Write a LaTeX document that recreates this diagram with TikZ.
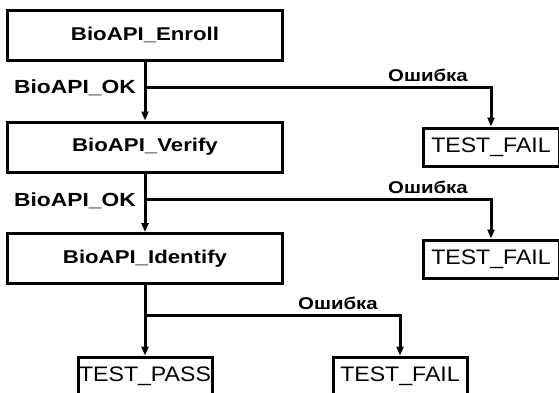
\documentclass[tikz,border=0pt]{standalone}
\usepackage{fontspec}
\setmainfont{Liberation Sans}
\newfontfamily\boldwide[FakeStretch=1.2]{Liberation Sans Bold}
\newfontfamily\regwide[FakeStretch=1.1]{Liberation Sans}
\usetikzlibrary{arrows.meta}
\begin{document}
\begin{tikzpicture}[x=1pt,y=-1pt, line width=3pt,
  bigbox/.style={draw, line width=3pt, minimum width=275pt, minimum height=50pt, inner sep=0pt,
    font=\boldwide\fontsize{18.5}{20}\selectfont},
  endbox/.style={draw, line width=3pt, minimum width=136pt, minimum height=38pt, inner sep=0pt,
    font=\regwide\fontsize{21}{23}\selectfont},
  lbl/.style={inner sep=0pt, font=\boldwide\fontsize{19}{21}\selectfont},
  elbl/.style={inner sep=0pt, font=\boldwide\fontsize{17}{19}\selectfont},
  arr/.style={-{Triangle[width=7pt,length=9pt]}}]
\useasboundingbox (0,0) rectangle (559,392);
\fill[white] (0,0) rectangle (559,392);

\node[bigbox] (enroll) at (145,35) {BioAPI\_Enroll};
\node[bigbox] (verify) at (145,147) {BioAPI\_Verify};
\node[bigbox] (identify) at (145,258.5) {BioAPI\_Identify};

\node[endbox] (f1) at (491,147) {TEST\_FAIL};
\node[endbox] (f2) at (491,259) {TEST\_FAIL};
\node[endbox, minimum width=134pt] (f3) at (400,376) {TEST\_FAIL};
\node[endbox, minimum width=134pt] (pass) at (145,376) {TEST\_PASS};

\coordinate (b1) at (145,87);
\coordinate (b2) at (145,199);
\coordinate (b3) at (145,315);

\node[lbl] (ok1) at (75,88) {BioAPI\_OK};
\node[lbl] (ok2) at (75,201) {BioAPI\_OK};
\node[elbl] (e1) at (428,75) {Ошибка};
\node[elbl] (e2) at (428,187) {Ошибка};
\node[elbl] (e3) at (338,303) {Ошибка};

\draw[arr] (enroll.south) -- (verify.north);
\draw[arr] (verify.south) -- (identify.north);
\draw[arr] (identify.south) -- (pass.north);
\draw[arr] (b1) -| (f1.north);
\draw[arr] (b2) -| (f2.north);
\draw[arr] (b3) -| (f3.north);
\end{tikzpicture}
\end{document}
